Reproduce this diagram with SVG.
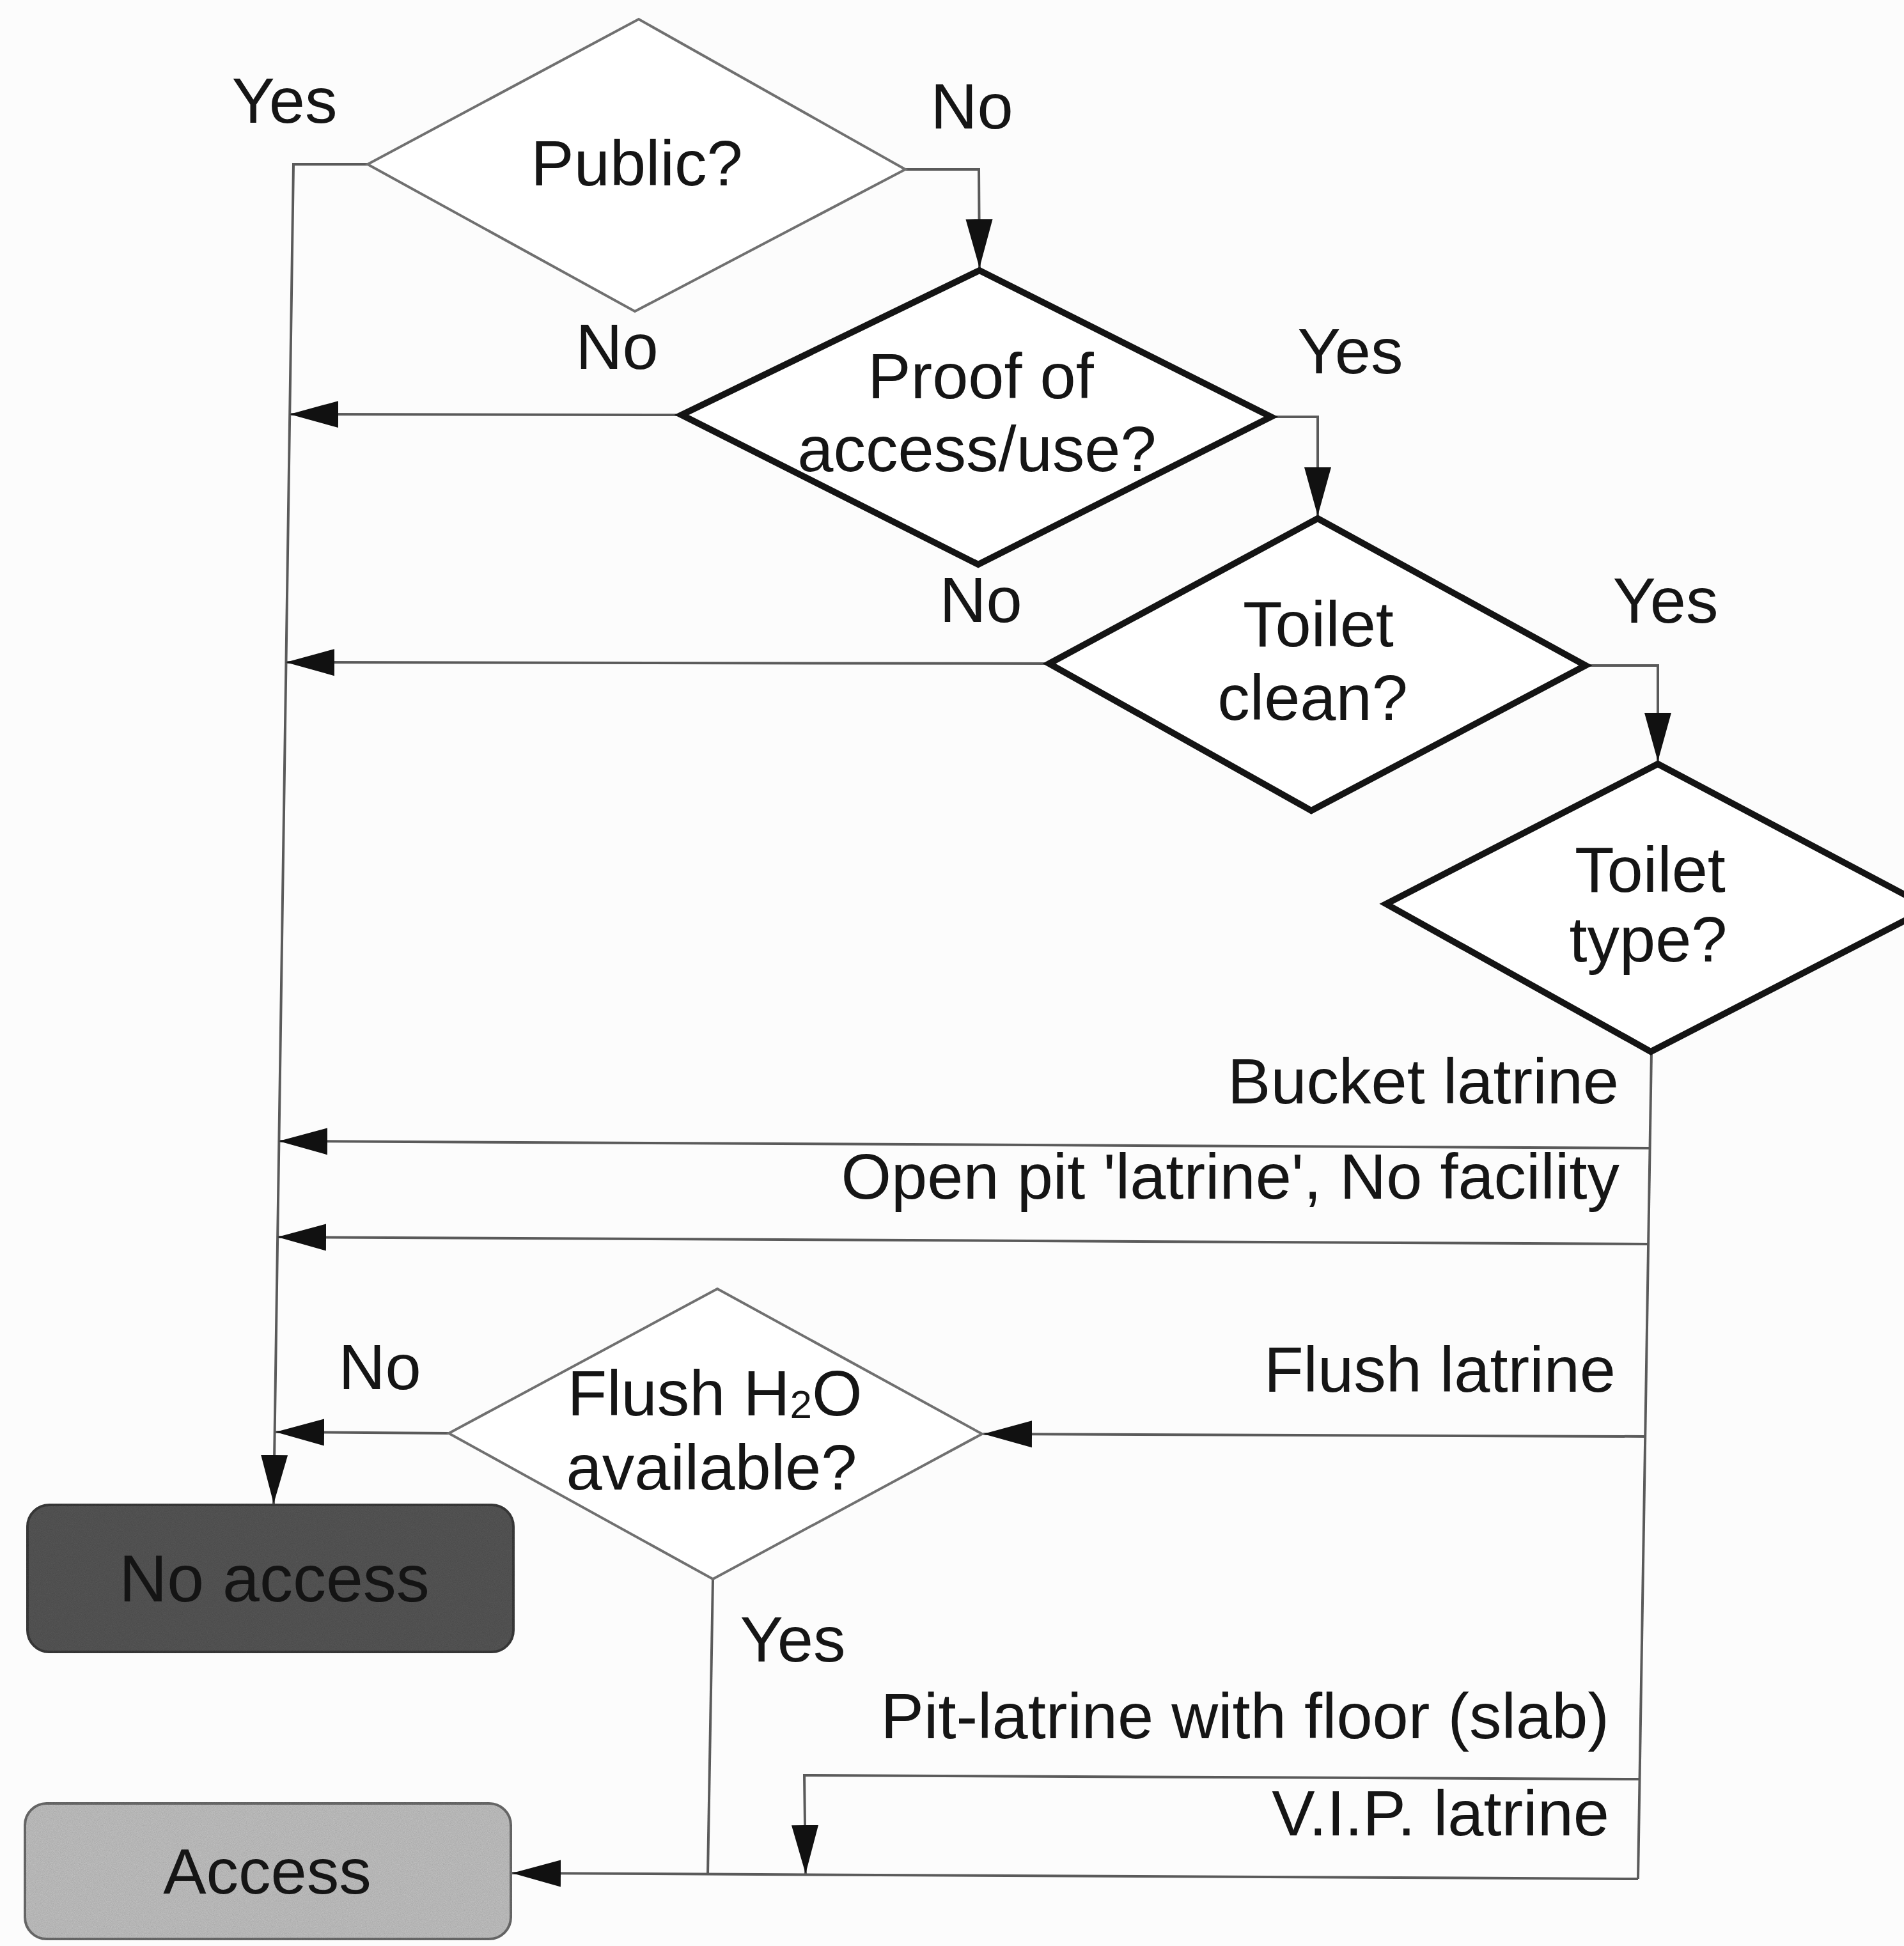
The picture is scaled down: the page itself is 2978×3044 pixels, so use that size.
<svg xmlns="http://www.w3.org/2000/svg" width="2978" height="3044" viewBox="0 0 2978 3044">
<style>
.t{font-family:"Liberation Sans",Arial,Helvetica,sans-serif;font-size:101px;fill:#151515}
.m{text-anchor:middle}
.e{text-anchor:end}
.thin{fill:#ffffff;stroke:#707070;stroke-width:4;stroke-linejoin:miter}
.thick{fill:#ffffff;stroke:#141414;stroke-width:10;stroke-linejoin:miter}
.c{fill:none;stroke:#5a5a5a;stroke-width:4}
.ca{fill:none;stroke:#5a5a5a;stroke-width:4;marker-end:url(#ah)}
</style>
<defs>
<marker id="ah" markerUnits="userSpaceOnUse" viewBox="0 0 76 44" markerWidth="76" markerHeight="44" refX="76" refY="22" orient="auto">
<path d="M0,1 L76,22 L0,43 Z" fill="#111111"/>
</marker>
<filter id="grain" x="-5%" y="-5%" width="110%" height="110%">
<feTurbulence type="fractalNoise" baseFrequency="0.9" numOctaves="2" seed="3" result="n"/>
<feColorMatrix in="n" type="matrix" values="0 0 0 0 0  0 0 0 0 0  0 0 0 0 0  0 0 0 0.35 -0.08" result="na"/>
<feComposite in="na" in2="SourceGraphic" operator="in" result="nc"/>
<feMerge><feMergeNode in="SourceGraphic"/><feMergeNode in="nc"/></feMerge>
</filter>
</defs>
<rect x="0" y="0" width="2978" height="3044" fill="#fcfcfc"/>

<g id="connectors">
<path class="ca" d="M575,257 L459,257 L428,2352"/>
<path class="ca" d="M1416,265 L1531,265 L1532,419"/>
<path class="ca" d="M1066,649 L453,648"/>
<path class="ca" d="M1988,652 L2061,652 L2061,807"/>
<path class="ca" d="M1641,1038 L447,1036"/>
<path class="ca" d="M2480,1041 L2593,1041 L2593,1191"/>
<path class="c" d="M2583,1645 L2562,2939"/>
<path class="ca" d="M2581,1796 L436,1785"/>
<path class="ca" d="M2578,1946 L434,1935"/>
<path class="ca" d="M2573,2247 L1538,2243"/>
<path class="ca" d="M702,2242 L431,2240"/>
<path class="c" d="M1115,2470 L1107,2932"/>
<path class="ca" d="M2564,2783 L1258,2777 L1260,2931"/>
<path class="ca" d="M2562,2939 L801,2930"/>
</g>

<g id="public">
<polygon class="thin" points="575,257 999,30 1416,265 993,487"/>
<text class="t m" x="996" y="290">Public?</text>
</g>

<g id="proof">
<polygon class="thick" points="1066,649 1532,423 1988,652 1530,883"/>
<text class="t m" x="1534" y="623">Proof of</text>
<text class="t m" x="1528" y="737">access/use?</text>
</g>

<g id="toilet-clean">
<polygon class="thick" points="1641,1038 2061,811 2480,1041 2051,1268"/>
<text class="t m" x="2062" y="1011">Toilet</text>
<text class="t m" x="2053" y="1126">clean?</text>
</g>

<g id="toilet-type">
<polygon class="thick" points="2168,1414 2593,1195 3018,1420 2582,1645"/>
<text class="t m" x="2581" y="1395">Toilet</text>
<text class="t m" x="2578" y="1504">type?</text>
</g>

<g id="flush-water">
<polygon class="thin" points="702,2242 1122,2016 1536,2243 1115,2470"/>
<text class="t m" x="1118" y="2214">Flush H<tspan font-size="62" dy="4">2</tspan><tspan dy="-4">O</tspan></text>
<text class="t m" x="1113" y="2330">available?</text>
</g>

<g id="no-access">
<rect x="43" y="2354" width="760" height="230" rx="34" fill="#555555" stroke="#3a3a3a" stroke-width="4" filter="url(#grain)"/>
<text class="t m" x="429" y="2505" style="font-size:104px;fill:#141414">No access</text>
</g>

<g id="access">
<rect x="39" y="2821" width="760" height="212" rx="34" fill="#bebebe" stroke="#6a6a6a" stroke-width="4" filter="url(#grain)"/>
<text class="t m" x="418" y="2962">Access</text>
</g>

<g id="labels">
<text class="t m" x="445" y="192">Yes</text>
<text class="t m" x="1520" y="201">No</text>
<text class="t m" x="965" y="577">No</text>
<text class="t m" x="2112" y="584">Yes</text>
<text class="t m" x="1534" y="973">No</text>
<text class="t m" x="2605" y="974">Yes</text>
<text class="t e" x="2532" y="1726">Bucket latrine</text>
<text class="t e" x="2533" y="1875">Open pit 'latrine', No facility</text>
<text class="t e" x="2527" y="2177">Flush latrine</text>
<text class="t m" x="594" y="2173">No</text>
<text class="t m" x="1240" y="2599">Yes</text>
<text class="t e" x="2517" y="2719">Pit-latrine with floor (slab)</text>
<text class="t e" x="2517" y="2871">V.I.P. latrine</text>
</g>
</svg>
